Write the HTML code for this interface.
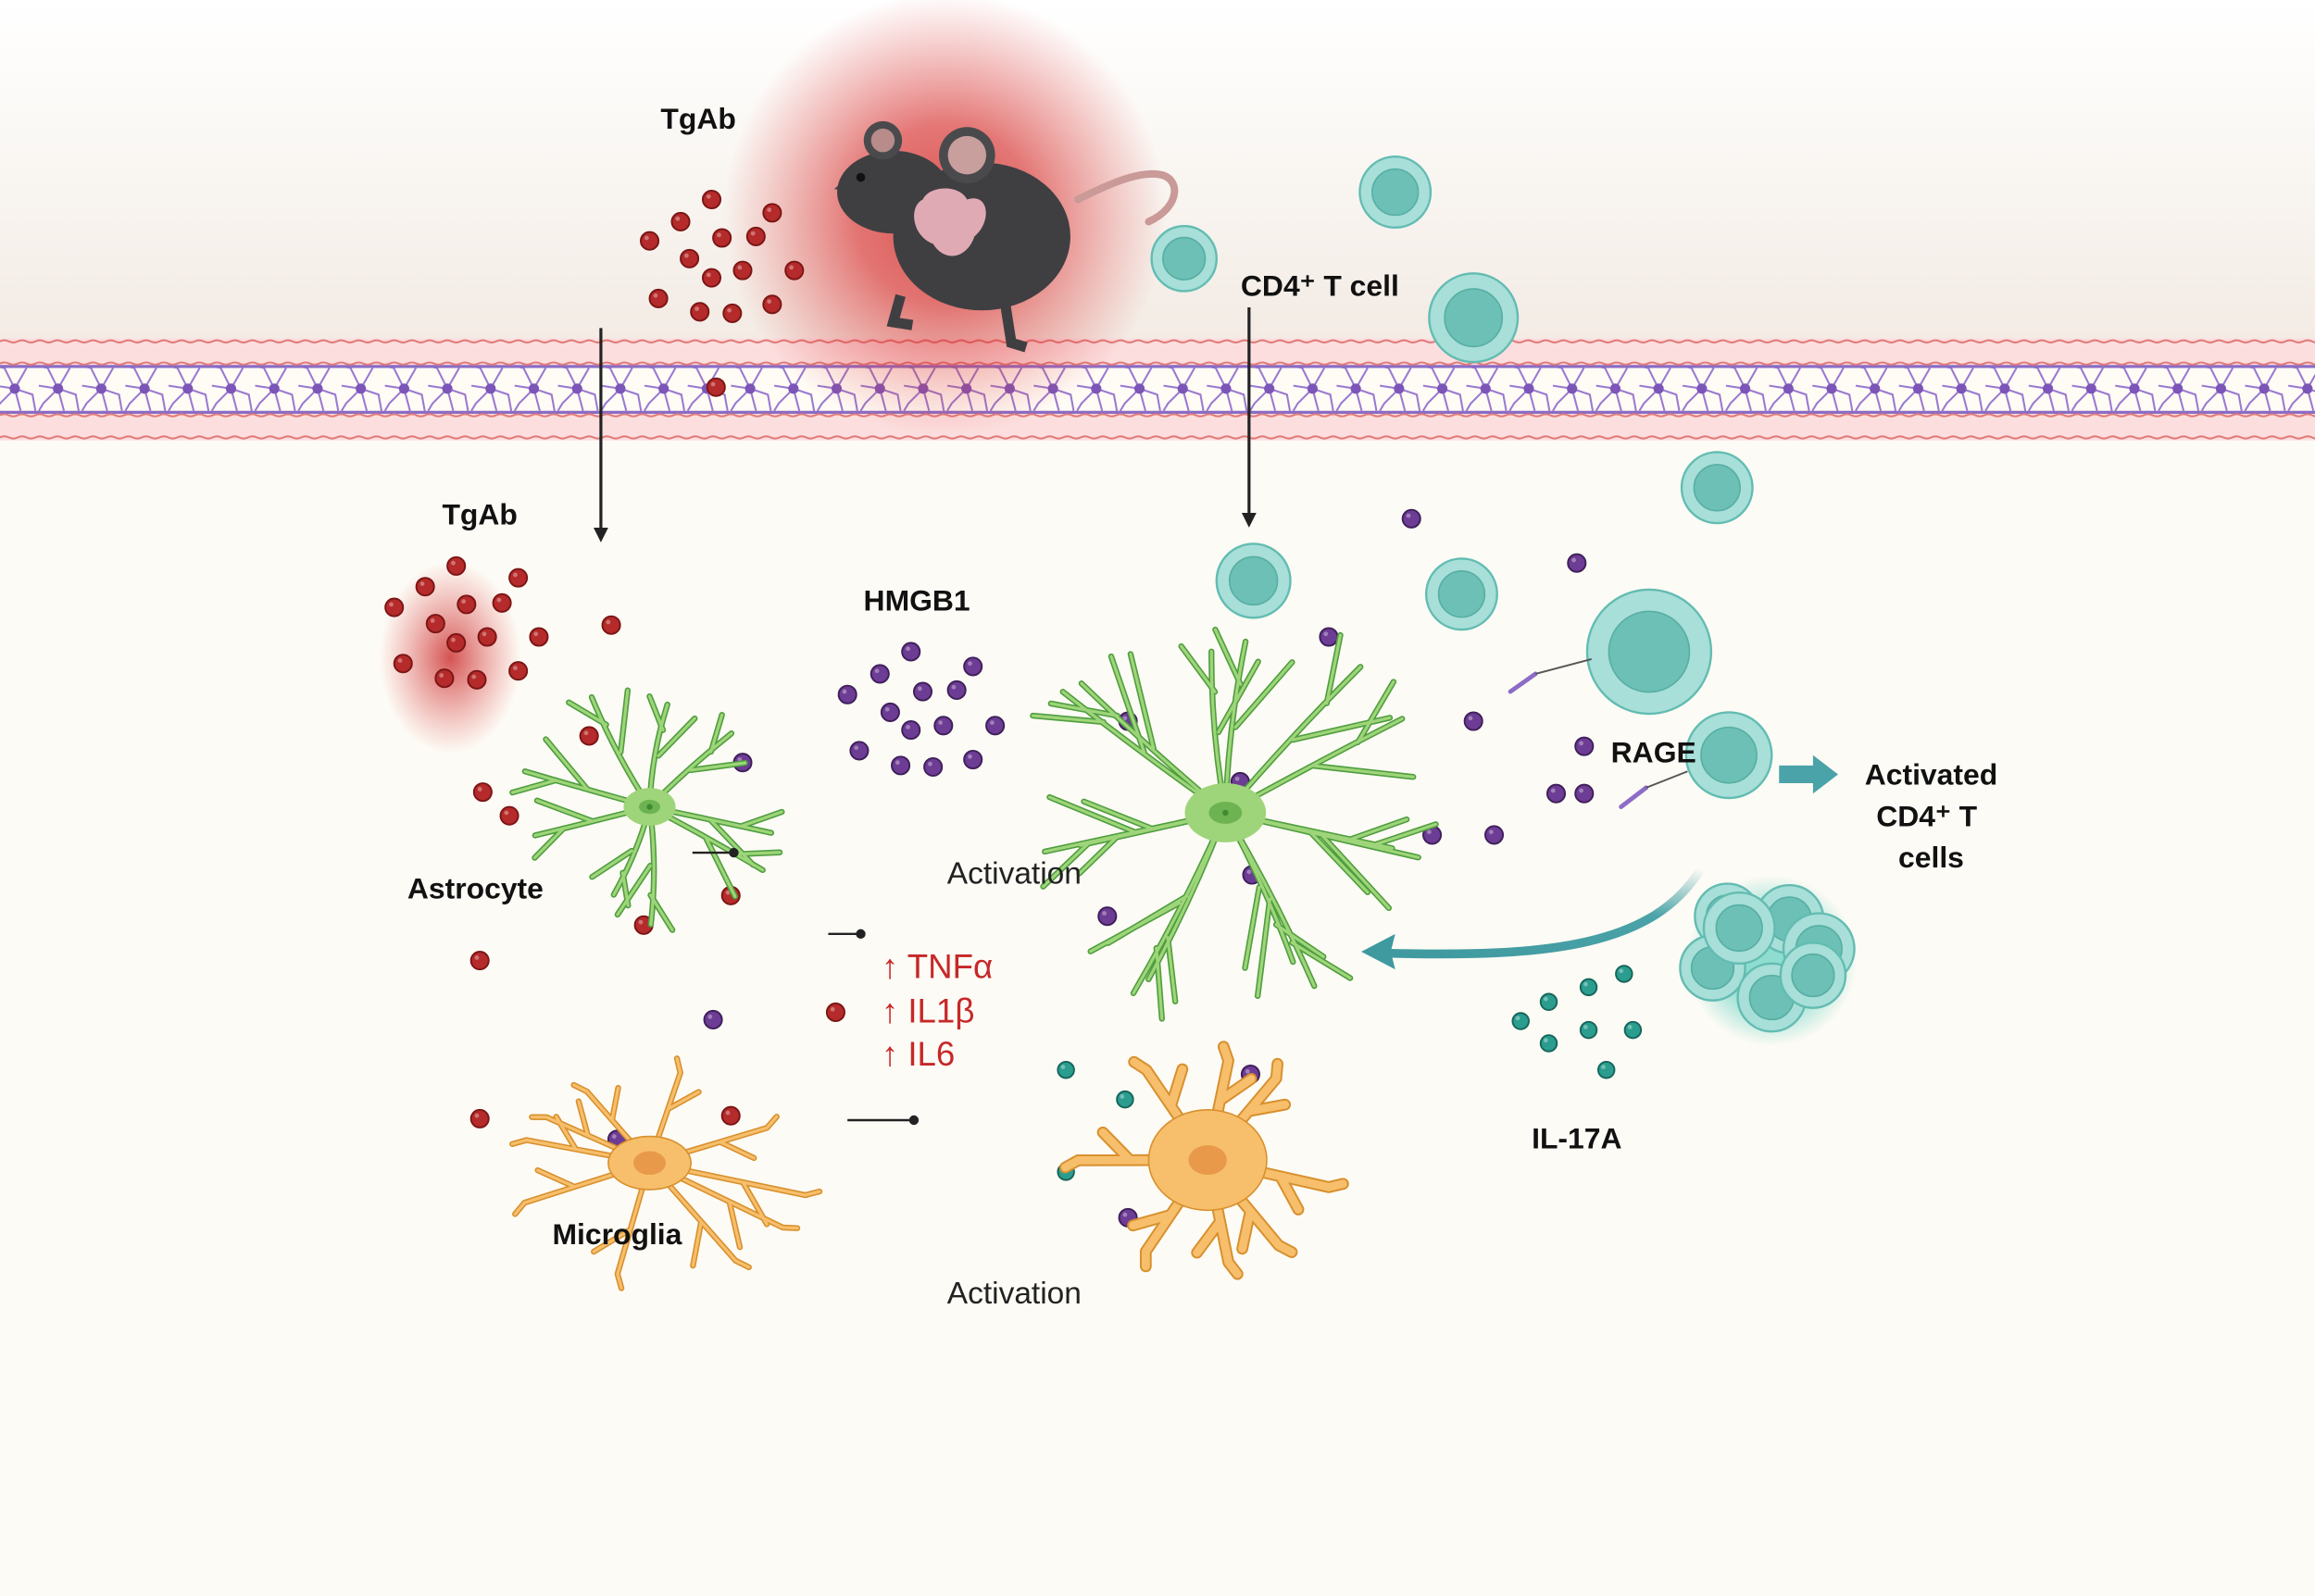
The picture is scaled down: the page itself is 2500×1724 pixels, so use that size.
<!DOCTYPE html>
<html><head><meta charset="utf-8"><style>
html,body{margin:0;padding:0;background:#fdfbf5}
svg{display:block}
text{font-family:"Liberation Sans",Arial,sans-serif}
</style></head><body>
<svg id="s" width="2500" height="1724" viewBox="0 0 1568 1080" preserveAspectRatio="none" xmlns="http://www.w3.org/2000/svg">
<defs>
<linearGradient id="top" x1="0" y1="0" x2="0" y2="1">
<stop offset="0" stop-color="#ffffff"/><stop offset="0.35" stop-color="#fbf9f6"/><stop offset="1" stop-color="#f3ebe4"/></linearGradient>
<radialGradient id="glow"><stop offset="0" stop-color="#d42020" stop-opacity="1"/><stop offset="0.4" stop-color="#d42020" stop-opacity="0.8"/><stop offset="1" stop-color="#e04040" stop-opacity="0"/></radialGradient>
<radialGradient id="glow2"><stop offset="0" stop-color="#c92a2a" stop-opacity="0.8"/><stop offset="1" stop-color="#e05050" stop-opacity="0"/></radialGradient>
<radialGradient id="tglow"><stop offset="0.5" stop-color="#5fd0c0" stop-opacity="0.7"/><stop offset="1" stop-color="#5fd0c0" stop-opacity="0"/></radialGradient>
<linearGradient id="curv" x1="1" y1="0" x2="0" y2="1"><stop offset="0" stop-color="#4aa3a8" stop-opacity="0"/><stop offset="0.35" stop-color="#4aa3a8"/><stop offset="1" stop-color="#3f9aa0"/></linearGradient>
<marker id="ah" markerWidth="10" markerHeight="10" refX="5" refY="5" orient="auto" markerUnits="userSpaceOnUse"><path d="M0,0 L10,5 L0,10 z" fill="#222"/></marker>
</defs>
<rect width="1568" height="1080" fill="#fdfbf5"/>
<rect width="1568" height="232" fill="url(#top)"/>
<rect y="229" width="1568" height="69" fill="#fcdede"/>
<rect y="248" width="1568" height="31" fill="#fffcf6"/>
<g id="mem"></g>
<line x1="0" y1="248" x2="1568" y2="248" stroke="#8a6cc6" stroke-width="2"/>
<line x1="0" y1="279" x2="1568" y2="279" stroke="#8a6cc6" stroke-width="2"/>
<path id="w1" fill="none" stroke="#e07a7a" stroke-width="1.3"/>
<circle cx="640" cy="145" r="150" fill="url(#glow)" opacity="0.75"/>
<ellipse cx="305" cy="445" rx="48" ry="65" fill="url(#glow2)"/>
<g>
<path d="M778,150 C800,140 800,120 785,118 C770,116 750,125 730,135" fill="none" stroke="#c99a98" stroke-width="5" stroke-linecap="round"/>
<ellipse cx="665" cy="160" rx="60" ry="50" fill="#3f3f42"/>
<ellipse cx="605" cy="130" rx="38" ry="28" fill="#3f3f42"/>
<path d="M565,128 L585,110 L600,130 z" fill="#3f3f42"/>
<circle cx="598" cy="95" r="13" fill="#4a4a4d"/><circle cx="598" cy="95" r="8" fill="#b78c8a"/>
<circle cx="655" cy="105" r="19" fill="#4a4a4d"/><circle cx="655" cy="105" r="13" fill="#c89f9c"/>
<circle cx="583" cy="120" r="3" fill="#111"/>
<path d="M625,135 C630,125 650,125 655,135 C670,130 672,150 660,160 C655,175 640,178 632,165 C618,160 615,140 625,135 z" fill="#e0aab4"/>
<path d="M610,200 L605,218 L618,220 M680,200 L685,232 L695,235" stroke="#3f3f42" stroke-width="7" fill="none"/>
</g>
<g id="dots"></g>
<g id="cells"></g>
<g id="neur"></g>
<line x1="407" y1="222" x2="407" y2="362" stroke="#222" stroke-width="2" marker-end="url(#ah)"/>
<line x1="846" y1="208" x2="846" y2="352" stroke="#222" stroke-width="2" marker-end="url(#ah)"/>
<g stroke="#222" stroke-width="1.5" fill="#222">
<line x1="469" y1="577" x2="497" y2="577"/><circle cx="497" cy="577" r="2.5"/>
<line x1="561" y1="632" x2="583" y2="632"/><circle cx="583" cy="632" r="2.5"/>
<line x1="574" y1="758" x2="619" y2="758"/><circle cx="619" cy="758" r="2.5"/>
</g>
<path d="M1152,588 C1120,640 1050,648 940,645" fill="none" stroke="url(#curv)" stroke-width="6"/>
<path d="M922,644 L945,632 L942,644 L945,656 z" fill="#3f9aa0"/>
<path d="M1205,518 L1228,518 L1228,511 L1245,524 L1228,537 L1228,530 L1205,530 z" fill="#4aa3a8"/>
<g stroke="#8d6cc8" stroke-width="3" stroke-linecap="round">
<line x1="1023" y1="468" x2="1040" y2="456"/><line x1="1098" y1="546" x2="1115" y2="533"/></g>
<g stroke="#555" stroke-width="1.2"><line x1="1040" y1="456" x2="1078" y2="446"/><line x1="1115" y1="533" x2="1143" y2="522"/></g>
<g font-weight="bold" font-size="20" fill="#111" text-anchor="middle">
<text x="473" y="87">TgAb</text>
<text x="325" y="355">TgAb</text>
<text x="621" y="413">HMGB1</text>
<text x="894" y="200">CD4⁺ T  cell</text>
<text x="322" y="608">Astrocyte</text>
<text x="1120" y="516">RAGE</text>
<text x="1308" y="531">Activated</text>
<text x="1305" y="559">CD4⁺ T</text>
<text x="1308" y="587">cells</text>
<text x="1068" y="777">IL-17A</text>
<text x="418" y="842">Microglia</text>
</g>
<g font-size="21" fill="#222" text-anchor="middle">
<text x="687" y="598">Activation</text>
<text x="687" y="882">Activation</text>
</g>
<g font-size="23" fill="#c62828">
<text x="597" y="662">↑ TNFα</text>
<text x="597" y="692">↑ IL1β</text>
<text x="597" y="721">↑ IL6</text>
</g>
</svg>
<script>
var NS="http://www.w3.org/2000/svg";
function el(p,t,a){var e=document.createElementNS(NS,t);for(var k in a)e.setAttribute(k,a[k]);p.appendChild(e);return e;}
var d="";[231,246,281,296].forEach(function(y){d+="M0,"+y;for(var x=0;x<1568;x+=6)d+=" Q"+(x+3)+","+(y+(x%12?1.5:-1.5))+" "+(x+6)+","+y;});
document.getElementById('w1').setAttribute('d',d);
var mem=document.getElementById('mem');
for(var x=10;x<1568;x+=29.3){
 var g=el(mem,'g',{transform:'translate('+x+',263)',stroke:'#9a7ad0','stroke-width':'1.3',fill:'none'});
 el(g,'path',{d:'M0,0 L-7,-14 M-7,-14 L-12,-15 M0,0 L8,-14 M0,0 L12,4 L14,15 M0,0 L-10,10 L-13,15 M0,0 L-13,-2 M0,0 L4,15'});
 el(g,'circle',{r:3.5,fill:'#7c55b8',stroke:'none'});
}
var dots=document.getElementById('dots');
function dot(x,y,c,sc,r){el(dots,'circle',{cx:x,cy:y,r:r||6,fill:c,stroke:sc,'stroke-width':1.2});el(dots,'circle',{cx:x-2,cy:y-2,r:1.5,fill:'#fff',opacity:0.35});}
[[482,135],[440,163],[461,150],[489,161],[512,160],[523,144],[467,175],[482,188],[503,183],[538,183],[446,202],[474,211],[496,212],[523,206],[485,262],
[309,383],[288,397],[351,391],[267,411],[316,409],[340,408],[295,422],[309,435],[330,431],[365,431],[414,423],[273,449],[301,459],[323,460],[351,454],[399,498],[327,536],[345,552],[495,606],[436,626],[325,650],[566,685],[325,757],[495,755]].forEach(function(p){dot(p[0],p[1],'#b52a2a','#7a1515');});
var teal=[[945,130,24],[802,175,22],[998,215,30],[1163,330,24],[849,393,25],[990,402,24],[1117,441,42],[1171,511,29]];
var cells=document.getElementById('cells');
el(cells,'circle',{cx:1200,cy:650,r:58,fill:'url(#tglow)'});
[[1170,620],[1212,622],[1232,642],[1160,655],[1200,675],[1178,628],[1228,660]].forEach(function(p,i){teal.push([p[0],p[1],22+(i%3)]);});
teal.forEach(function(c){el(cells,'circle',{cx:c[0],cy:c[1],r:c[2],fill:'#a8dfd8',stroke:'#63bcb2','stroke-width':1.5});el(cells,'circle',{cx:c[0],cy:c[1],r:c[2]*0.65,fill:'#6cc0b5',stroke:'#57aea4','stroke-width':1});});
var neur=document.getElementById('neur');
function astro(cx,cy,n,L,seed){
 var g=el(neur,'g',{});var ds="";
 for(var i=0;i<n;i++){
  var ang=i*2*Math.PI/n+Math.sin(i*3+seed)*0.25;var l=L*(0.8+0.3*Math.abs(Math.sin(i*7+seed)));
  var x1=cx+Math.cos(ang)*l*0.5,y1=cy+Math.sin(ang)*l*0.5,x2=cx+Math.cos(ang)*l,y2=cy+Math.sin(ang)*l;
  ds+="M"+cx+","+cy+" Q"+(x1+5*Math.sin(ang))+","+(y1)+" "+x2+","+y2;
  var a2=ang+0.6,a3=ang-0.55;
  ds+="M"+x1+","+y1+" L"+(x1+Math.cos(a2)*l*0.5)+","+(y1+Math.sin(a2)*l*0.5);
  ds+="M"+(cx+Math.cos(ang)*l*0.75)+","+(cy+Math.sin(ang)*l*0.75)+" L"+(cx+Math.cos(ang)*l*0.75+Math.cos(a3)*l*0.35)+","+(cy+Math.sin(ang)*l*0.75+Math.sin(a3)*l*0.35);
 }
 el(g,'path',{d:ds,stroke:'#4f9e3f','stroke-width':4,fill:'none','stroke-linecap':'round'});
 el(g,'path',{d:ds,stroke:'#9fd57a','stroke-width':2,fill:'none','stroke-linecap':'round'});
 el(g,'ellipse',{cx:cx,cy:cy,rx:L*0.22,ry:L*0.16,fill:'#9fd57a'});
 el(g,'ellipse',{cx:cx,cy:cy,rx:L*0.09,ry:L*0.06,fill:'#6db352'});
 el(g,'circle',{cx:cx,cy:cy,r:2,fill:'#3f8a30'});
}
astro(440,546,9,80,1);astro(830,550,14,125,2);
function micro(cx,cy,L,n,seed,fat){
 var g=el(neur,'g',{});var ds="";
 for(var i=0;i<n;i++){var ang=i*2*Math.PI/n+Math.sin(i*5+seed)*0.3;var l=L*(0.7+0.4*Math.abs(Math.sin(i*3+seed)));
  var x2=cx+Math.cos(ang)*l,y2=cy+Math.sin(ang)*l*0.8;var xm=cx+Math.cos(ang)*l*0.6,ym=cy+Math.sin(ang)*l*0.48;
  ds+="M"+cx+","+cy+" L"+x2+","+y2+" M"+xm+","+ym+" L"+(xm+Math.cos(ang+0.8)*l*0.3)+","+(ym+Math.sin(ang+0.8)*l*0.3)+" M"+x2+","+y2+" l"+(Math.cos(ang-0.5)*10)+","+(Math.sin(ang-0.5)*10);}
 el(g,'path',{d:ds,stroke:'#d8902e','stroke-width':fat?8:4,fill:'none','stroke-linecap':'round','stroke-linejoin':'round'});
 el(g,'path',{d:ds,stroke:'#f7bf6c','stroke-width':fat?5.5:2,fill:'none','stroke-linecap':'round','stroke-linejoin':'round'});
 el(g,'ellipse',{cx:cx,cy:cy,rx:fat?40:28,ry:fat?34:18,fill:'#f7bf6c',stroke:'#d8902e','stroke-width':1});
 el(g,'ellipse',{cx:cx,cy:cy,rx:fat?13:11,ry:fat?10:8,fill:'#e89a4a'});
}
micro(440,787,105,10,1,false);micro(818,785,80,8,2,true);
[[617,441],[596,456],[574,470],[625,468],[648,467],[659,451],[603,482],[617,494],[639,491],[674,491],[582,508],[610,518],[632,519],[659,514],[503,516],[956,351],[1068,381],[900,431],[998,488],[1073,505],[1054,537],[1073,537],[970,565],[1012,565],[764,488],[840,529],[848,592],[750,620],[483,690],[418,771],[847,727],[764,824]].forEach(function(p){dot(p[0],p[1],'#6d3c94','#3e1f5a');});
[[1100,659],[1076,668],[1049,678],[1030,691],[1076,697],[1106,697],[1049,706],[1088,724],[722,724],[762,744],[722,793]].forEach(function(p){dot(p[0],p[1],'#2a9d8f','#16655b',5.5);});
</script>
</body></html>
